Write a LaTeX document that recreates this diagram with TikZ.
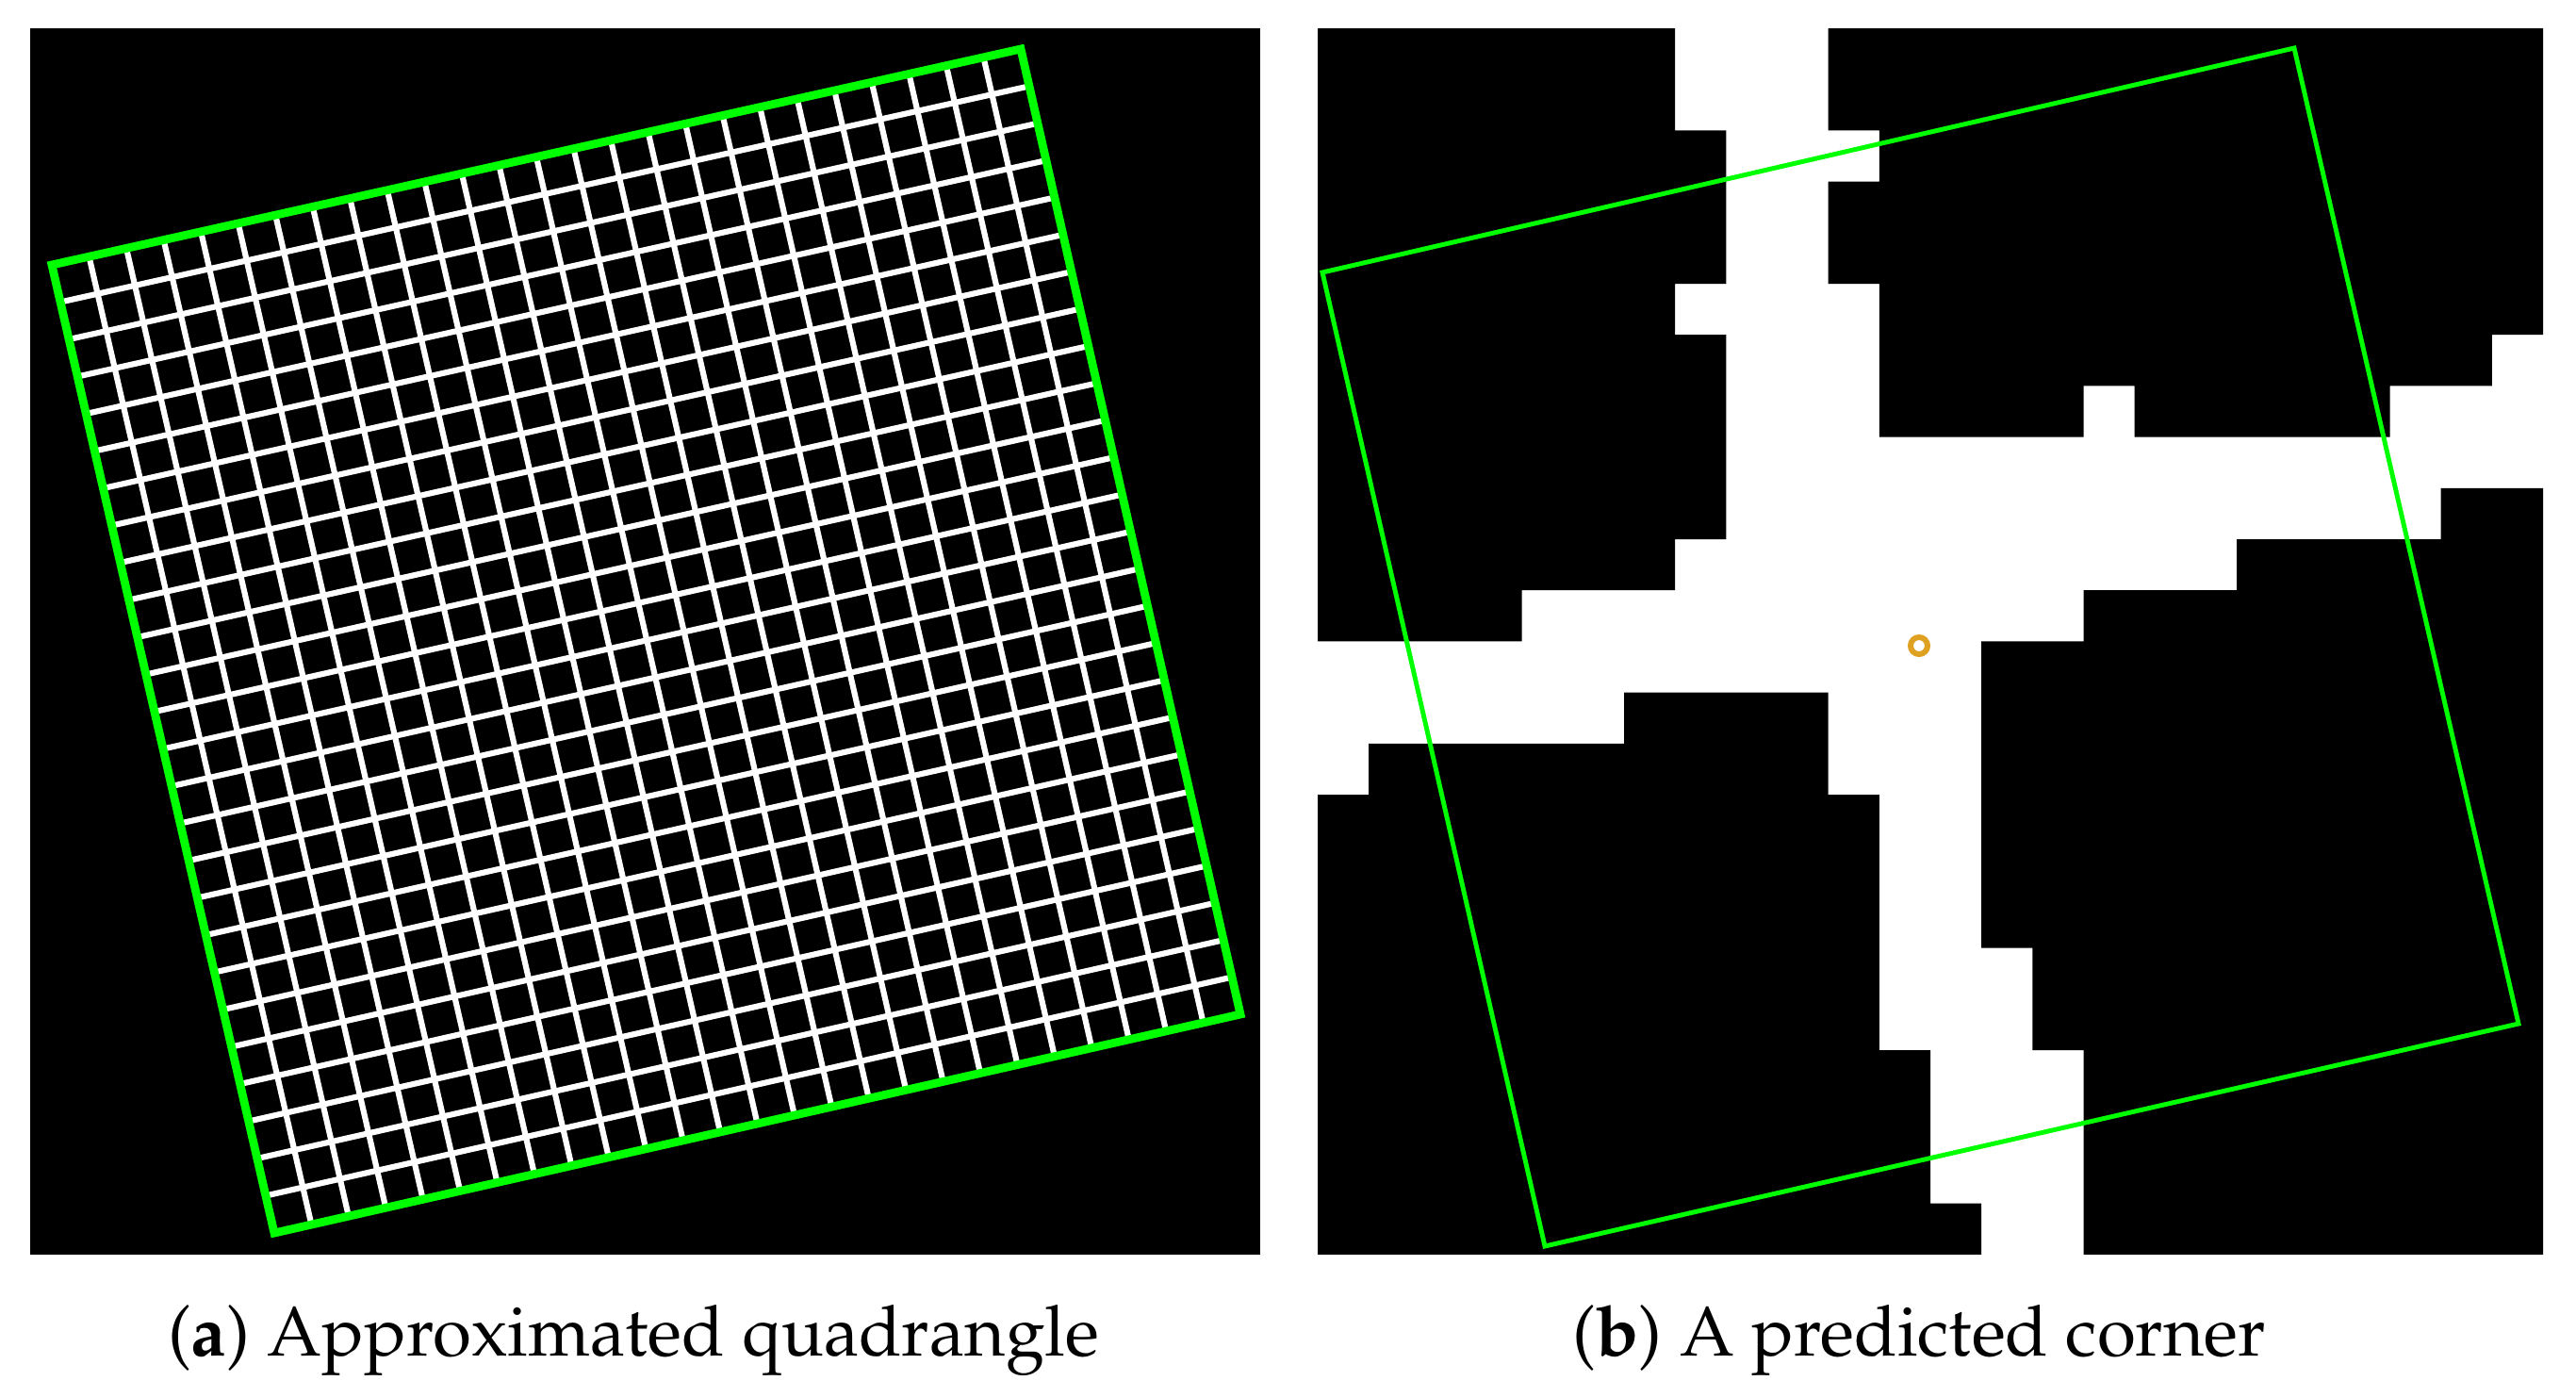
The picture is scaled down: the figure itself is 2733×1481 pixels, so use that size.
\documentclass[tikz,border=0pt]{standalone}
\usepackage[T1]{fontenc}
\usepackage{mathpazo}
\usetikzlibrary{calc}
\definecolor{quadgreen}{RGB}{0,255,0}
\definecolor{cornerorange}{RGB}{222,161,34}
\begin{document}
\begin{tikzpicture}[x=0.01cm,y=-0.01cm,
  panelbg/.style={fill=black},
  gridline/.style={draw=white,line width=1.75pt},
  quadA/.style={draw=quadgreen,line width=2.5pt,line join=miter},
  quadB/.style={draw=quadgreen,line width=1.4pt,line join=miter},
  blob/.style={fill=black},
  cornermark/.style={draw=cornerorange,line width=1.7pt},
  caption/.style={anchor=base,inner sep=0pt,font=\fontsize{21.2}{25}\selectfont}]
\useasboundingbox (0,0) rectangle (2733,1481);
\fill[white] (0,0) rectangle (2733,1481);

% ---------- panel (a) ----------
\fill[panelbg] (32,30) rectangle (1337,1331);
\coordinate (qTL) at (55,281);
\coordinate (qTR) at (1083,52);
\coordinate (qBR) at (1316,1076);
\coordinate (qBL) at (291,1308);
\foreach \i in {1,...,25}{
  \draw[gridline] ($(qTL)!\i/26!(qTR)$) -- ($(qBL)!\i/26!(qBR)$);
  \draw[gridline] ($(qTL)!\i/26!(qBL)$) -- ($(qTR)!\i/26!(qBR)$);
}
\draw[quadA] (qTL) -- (qTR) -- (qBR) -- (qBL) -- cycle;
\node[caption] (capA) at (672,1438) {(\textbf{a}) Approximated quadrangle};

% ---------- panel (b) ----------
\begin{scope}[shift={(1398,30)},xscale=54.1667,yscale=54.2]
  \fill[white] (0,0) rectangle (24,24);
  % top-left black region
  \fill[blob] (0,0) -- (7,0) -- (7,2) -- (8,2) -- (8,5) -- (7,5) -- (7,6) -- (8,6)
    -- (8,10) -- (7,10) -- (7,11) -- (4,11) -- (4,12) -- (0,12) -- cycle;
  % top-right black region
  \fill[blob] (10,0) -- (24,0) -- (24,6) -- (23,6) -- (23,7) -- (21,7) -- (21,8)
    -- (16,8) -- (16,7) -- (15,7) -- (15,8) -- (11,8) -- (11,5) -- (10,5) -- (10,3)
    -- (11,3) -- (11,2) -- (10,2) -- cycle;
  % bottom-right black region
  \fill[blob] (22,9) -- (24,9) -- (24,24) -- (15,24) -- (15,20) -- (14,20) -- (14,18)
    -- (13,18) -- (13,12) -- (15,12) -- (15,11) -- (18,11) -- (18,10) -- (22,10) -- cycle;
  % bottom-left black region
  \fill[blob] (6,13) -- (10,13) -- (10,15) -- (11,15) -- (11,20) -- (12,20) -- (12,23)
    -- (13,23) -- (13,24) -- (0,24) -- (0,15) -- (1,15) -- (1,14) -- (6,14) -- cycle;
\end{scope}
\coordinate (pTL) at (1403,289);
\coordinate (pTR) at (2434,51);
\coordinate (pBR) at (2672,1086);
\coordinate (pBL) at (1639,1322);
\draw[quadB] (pTL) -- (pTR) -- (pBR) -- (pBL) -- cycle;
\coordinate (corner) at (2036,685);
\draw[cornermark] (corner) circle (9);
\node[caption] (capB) at (2036,1438) {(\textbf{b}) A predicted corner};
\end{tikzpicture}
\end{document}
